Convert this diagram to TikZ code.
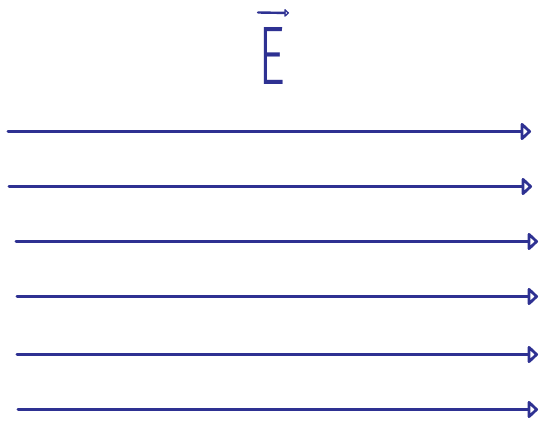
\documentclass[tikz,border=0pt]{standalone}
\usepackage{fontspec}
\usetikzlibrary{arrows.meta}
\IfFontExistsTF{Fira Sans Light}{\newfontfamily\efont{Fira Sans Light}}{\newfontfamily\efont{Liberation Sans}}
\definecolor{ink}{RGB}{46,49,146}
\tikzset{
  field/.style={draw=ink, line width=3pt, line cap=round,
    -{Triangle[open, length=11pt, width=20pt, line join=round]}},
  vecarrow/.style={draw=ink, line width=2.4pt, line cap=round,
    -{Triangle[open, length=5pt, width=9pt, line join=round]}},
  letter/.style={text=ink, inner sep=0pt, font=\efont}
}
\begin{document}
\begin{tikzpicture}[x=1pt, y=-1pt]
\useasboundingbox (0,0) rectangle (541,425);
% field lines
\coordinate (a1) at (8,131.5);  \coordinate (b1) at (531,131.5);
\coordinate (a2) at (9,186.5);  \coordinate (b2) at (532,186.5);
\coordinate (a3) at (16,241.5); \coordinate (b3) at (538,241.5);
\coordinate (a4) at (17,296.5); \coordinate (b4) at (538,296.5);
\coordinate (a5) at (17,354.5); \coordinate (b5) at (538,354.5);
\coordinate (a6) at (18,409.5); \coordinate (b6) at (538,409.5);
\foreach \i in {1,...,6} \draw[field] (a\i) -- (b\i);
% E vector label
\node[letter] (E) at (271.5,55.5) {\resizebox{27pt}{57pt}{E}};
\coordinate (v1) at (258,12.5); \coordinate (v2) at (289,13);
\draw[vecarrow] (v1) -- (v2);
\end{tikzpicture}
\end{document}
